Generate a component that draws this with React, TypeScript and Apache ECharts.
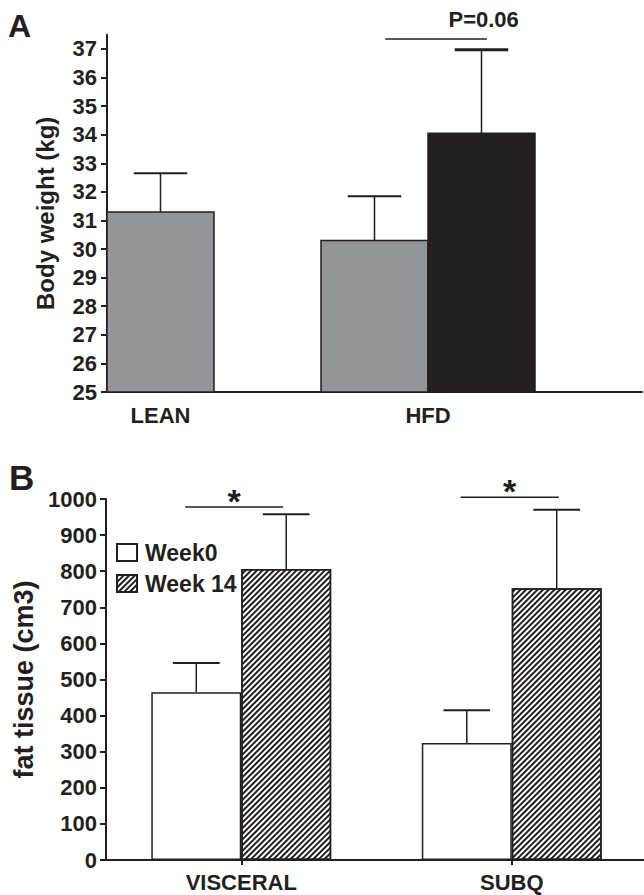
import React, { useEffect, useRef } from 'react';
import * as echarts from 'echarts';

const INK = '#231f20';
const GRAY = '#939598';
const FONT = 'Arial, "Liberation Sans", Helvetica, sans-serif';

// ---------- Panel A : body weight ----------
const aGroups = ['LEAN', 'HFD'];
const aYTicks = [25, 26, 27, 28, 29, 30, 31, 32, 33, 34, 35, 36, 37];
const aGray = [31.3, 30.3];
const aGrayErr = [1.35, 1.55];
const aBlack = [null, 34.05];
const aBlackErr = [null, 2.92];
const aSigText = 'P=0.06';

// ---------- Panel B : fat tissue ----------
const bCategories = ['VISCERAL', 'SUBQ'];
const bSeriesNames = ['Week0', 'Week 14'];
const bWeek0 = [465, 324];
const bWeek0Err = [81, 91];
const bWeek14 = [806, 753];
const bWeek14Err = [152, 217];
const bSigText = ['*', '*'];

// ---------- layout (not data) ----------
const A_MIN = 25;
const A_MAX = 37.5;
const aGraySlot = [0, 2];
const aBlackSlot = [null, 3];
const aLabelAt = [0.5, 3];
const aSig = { from: 2.6, to: 3.55, y: 37.35, labelX: 3.52, labelY: 38.03 };
const B_GAP = 0.335;
const bSig = [
  { from: -0.207, to: 0.155, y: 978, starY: 1015 },
  { from: -0.189, to: 0.174, y: 1005, starY: 1044 },
];

const barWithError = (fill: string, capWidth: number) => (_p: any, api: any) => {
  const s = api.value(0);
  const v = api.value(1);
  const e = api.value(2);
  const base = api.coord([s, A_MIN]);
  const top = api.coord([s + 1, v]);
  const errTop = api.coord([s + 0.5, v + e]);
  const x = base[0];
  const w = top[0] - base[0];
  const cx = x + w / 2;
  return {
    type: 'group',
    children: [
      { type: 'rect', shape: { x, y: top[1], width: w, height: base[1] - top[1] }, style: { fill, stroke: INK, lineWidth: 1.5 } },
      { type: 'line', shape: { x1: cx, y1: top[1], x2: cx, y2: errTop[1] }, style: { stroke: INK, lineWidth: 1.5 } },
      { type: 'line', shape: { x1: cx - w * 0.25, y1: errTop[1], x2: cx + w * 0.25, y2: errTop[1] }, style: { stroke: INK, lineWidth: capWidth } },
    ],
  };
};

const errorB = (side: number) => (_p: any, api: any) => {
  const i = api.value(0);
  const v = api.value(1);
  const e = api.value(2);
  const c = api.coord([i, v]);
  const t = api.coord([i, v + e]);
  const band = api.size([1, 0])[0];
  const bw = (band * (1 - B_GAP)) / 2;
  const cx = c[0] + (side * bw) / 2;
  return {
    type: 'group',
    children: [
      { type: 'line', shape: { x1: cx, y1: c[1], x2: cx, y2: t[1] }, style: { stroke: INK, lineWidth: 1.5 } },
      { type: 'line', shape: { x1: cx - bw * 0.26, y1: t[1], x2: cx + bw * 0.26, y2: t[1] }, style: { stroke: INK, lineWidth: 2 } },
    ],
  };
};

const axisText = (size: number) => ({ fontSize: size, fontWeight: 'bold' as const, color: INK, fontFamily: FONT });

export default function App() {
  const ref = useRef<HTMLDivElement>(null);
  useEffect(() => {
    if (!ref.current) return;
    const chart = echarts.init(ref.current, undefined, { renderer: 'svg' });
    const hatch = {
      symbol: 'rect',
      symbolSize: 1,
      rotation: -Math.PI / 4,
      dashArrayX: [1, 0],
      dashArrayY: [1.5, 1.6],
      color: INK,
      backgroundColor: '#ffffff',
    };
    const option: any = {
      animation: false,
      backgroundColor: '#ffffff',
      textStyle: { fontFamily: FONT },
      grid: [
        { left: 107, top: 34.7, width: 535, height: 357.3, outerBoundsMode: 'none' },
        { left: 106, top: 499, width: 541, height: 361, outerBoundsMode: 'none' },
      ],
      xAxis: [
        {
          gridIndex: 0,
          type: 'value',
          min: 0,
          max: 5,
          interval: 0.5,
          axisLine: { show: true, lineStyle: { color: INK, width: 2 } },
          axisTick: { show: false },
          splitLine: { show: false },
          axisLabel: {
            ...axisText(22),
            margin: 12,
            showMinLabel: true,
            showMaxLabel: true,
            formatter: (v: number) => {
              const i = aLabelAt.findIndex((p) => Math.abs(p - v) < 1e-6);
              return i >= 0 ? aGroups[i] : '';
            },
          },
        },
        {
          gridIndex: 1,
          type: 'category',
          data: bCategories,
          axisLine: { show: true, lineStyle: { color: INK, width: 2 } },
          axisTick: { show: true, alignWithLabel: true, length: 5, lineStyle: { color: INK, width: 2 } },
          splitLine: { show: false },
          axisLabel: { ...axisText(22), margin: 11 },
        },
      ],
      yAxis: [
        {
          gridIndex: 0,
          type: 'value',
          min: A_MIN,
          max: A_MAX,
          interval: 1,
          axisLine: { show: true, lineStyle: { color: INK, width: 2 } },
          axisTick: { show: true, length: 6, customValues: aYTicks, lineStyle: { color: INK, width: 2 } },
          splitLine: { show: false },
          axisLabel: {
            ...axisText(22),
            margin: 10,
            customValues: aYTicks,
            formatter: (v: number) => (Number.isInteger(v) ? String(v) : ''),
          },
          name: 'Body weight (kg)',
          nameLocation: 'middle',
          nameGap: 50,
          nameTextStyle: axisText(24),
        },
        {
          gridIndex: 1,
          type: 'value',
          min: 0,
          max: 1000,
          interval: 100,
          axisLine: { show: true, lineStyle: { color: INK, width: 2 } },
          axisTick: { show: true, length: 6, lineStyle: { color: INK, width: 2 } },
          splitLine: { show: false },
          axisLabel: { ...axisText(22), margin: 9, formatter: (v: number) => String(v) },
          name: 'fat tissue (cm3)',
          nameLocation: 'middle',
          nameGap: 58,
          nameTextStyle: axisText(27),
        },
      ],
      legend: {
        data: bSeriesNames,
        orient: 'vertical',
        left: 116,
        top: 541,
        padding: 0,
        itemWidth: 20,
        itemHeight: 17,
        itemGap: 8,
        icon: 'rect',
        selectedMode: false,
        textStyle: { ...axisText(23), padding: [0, 0, 0, 3] },
      },
      graphic: [
        { type: 'text', x: 8, y: 26, style: { text: 'A', font: `bold 32px ${FONT}`, fill: INK, align: 'left', verticalAlign: 'middle' } },
        { type: 'text', x: 9, y: 477.5, style: { text: 'B', font: `bold 35px ${FONT}`, fill: INK, align: 'left', verticalAlign: 'middle' } },
      ],
      series: [
        {
          type: 'custom',
          name: 'A baseline',
          xAxisIndex: 0,
          yAxisIndex: 0,
          clip: false,
          renderItem: barWithError(GRAY, 2),
          data: aGray.map((v, i) => [aGraySlot[i], v, aGrayErr[i]]),
          z: 2,
        },
        {
          type: 'custom',
          name: 'A high-fat diet',
          xAxisIndex: 0,
          yAxisIndex: 0,
          clip: false,
          renderItem: barWithError(INK, 3),
          data: aBlack
            .map((v, i) => (v == null ? null : [aBlackSlot[i], v, aBlackErr[i]]))
            .filter((d) => d != null),
          z: 3,
        },
        {
          type: 'custom',
          name: 'A significance',
          xAxisIndex: 0,
          yAxisIndex: 0,
          clip: false,
          renderItem: (_p: any, api: any) => {
            const p1 = api.coord([api.value(0), api.value(2)]);
            const p2 = api.coord([api.value(1), api.value(2)]);
            const pt = api.coord([api.value(3), api.value(4)]);
            return {
              type: 'group',
              children: [
                { type: 'line', shape: { x1: p1[0], y1: p1[1], x2: p2[0], y2: p2[1] }, style: { stroke: INK, lineWidth: 1.5 } },
                { type: 'text', x: pt[0], y: pt[1], style: { text: aSigText, font: `bold 22px ${FONT}`, fill: INK, align: 'center', verticalAlign: 'middle' } },
              ],
            };
          },
          data: [[aSig.from, aSig.to, aSig.y, aSig.labelX, aSig.labelY]],
        },
        {
          type: 'bar',
          name: bSeriesNames[0],
          xAxisIndex: 1,
          yAxisIndex: 1,
          data: bWeek0,
          barGap: '0%',
          barCategoryGap: `${B_GAP * 100}%`,
          itemStyle: { color: '#ffffff', borderColor: INK, borderWidth: 1.5 },
        },
        {
          type: 'bar',
          name: bSeriesNames[1],
          xAxisIndex: 1,
          yAxisIndex: 1,
          data: bWeek14,
          barGap: '0%',
          barCategoryGap: `${B_GAP * 100}%`,
          itemStyle: { color: '#ffffff', borderColor: INK, borderWidth: 1.5, decal: hatch },
        },
        {
          type: 'custom',
          name: 'B err week0',
          xAxisIndex: 1,
          yAxisIndex: 1,
          clip: false,
          renderItem: errorB(-1),
          data: bWeek0.map((v, i) => [i, v, bWeek0Err[i]]),
          z: 5,
        },
        {
          type: 'custom',
          name: 'B err week14',
          xAxisIndex: 1,
          yAxisIndex: 1,
          clip: false,
          renderItem: errorB(1),
          data: bWeek14.map((v, i) => [i, v, bWeek14Err[i]]),
          z: 5,
        },
        {
          type: 'custom',
          name: 'B significance',
          xAxisIndex: 1,
          yAxisIndex: 1,
          clip: false,
          renderItem: (p: any, api: any) => {
            const cat = api.value(0);
            const c = api.coord([cat, api.value(3)]);
            const s = api.coord([cat, api.value(4)]);
            const band = api.size([1, 0])[0];
            const x1 = c[0] + api.value(1) * band;
            const x2 = c[0] + api.value(2) * band;
            const fs = 34;
            return {
              type: 'group',
              children: [
                { type: 'line', shape: { x1, y1: c[1], x2, y2: c[1] }, style: { stroke: INK, lineWidth: 1.5 } },
                { type: 'text', x: (x1 + x2) / 2, y: s[1] + 0.22 * fs, style: { text: bSigText[p.dataIndex], font: `bold ${fs}px ${FONT}`, fill: INK, align: 'center', verticalAlign: 'middle' } },
              ],
            };
          },
          data: bSig.map((d, i) => [i, d.from, d.to, d.y, d.starY]),
          z: 5,
        },
      ],
    };
    chart.setOption(option);
    return () => chart.dispose();
  }, []);
  return <div ref={ref} style={{ position: 'fixed', left: 0, top: 0, width: 644, height: 895 }} />;
}
